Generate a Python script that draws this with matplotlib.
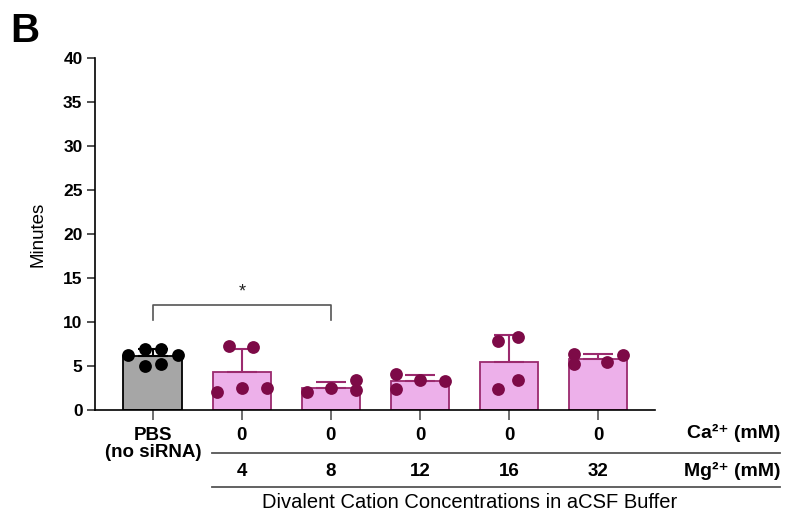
import matplotlib
matplotlib.use("Agg")
import matplotlib.pyplot as plt
from matplotlib.lines import Line2D
import numpy as np

plt.rcParams["font.family"] = ["Liberation Sans", "DejaVu Sans"]

# data
ca_labels = ["PBS\n(no siRNA)", "0", "0", "0", "0", "0"]
mg_labels = ["", "4", "8", "12", "16", "32"]
points = [
    [6.25, 6.97, 6.97, 6.25, 4.97, 5.19],
    [2.08, 7.24, 2.47, 7.20, 2.47],
    [2.00, 2.53, 3.40, 2.27],
    [4.09, 2.39, 3.37, 3.30],
    [2.35, 7.88, 3.41, 8.26],
    [6.36, 5.19, 5.42, 6.20],
]
# horizontal scatter of the dots inside each bar (layout only)
offsets = [
    [-0.28, -0.09, 0.09, 0.28, -0.09, 0.09],
    [-0.28, -0.14, 0.0, 0.13, 0.28],
    [-0.27, 0.0, 0.28, 0.28],
    [-0.27, -0.27, 0.0, 0.28],
    [-0.12, -0.12, 0.10, 0.10],
    [-0.27, -0.27, 0.10, 0.28],
]

means = [np.mean(p) for p in points]
sds = [np.std(p, ddof=1) for p in points]

PINK = "#EDB0EA"
PINK_EDGE = "#9B2A6E"
DOT = "#7D0A47"
GREY = "#A6A6A6"
LINE = "#555555"

fig = plt.figure(figsize=(7.86, 5.16), dpi=100)
ax = fig.add_axes([95 / 786, 1 - 410 / 516, 560 / 786, 352 / 516])

x = np.arange(len(points))
face = [GREY] + [PINK] * 5
edge = ["#000000"] + [PINK_EDGE] * 5
dotc = ["#000000"] + [DOT] * 5

for i in x:
    ax.bar(i, means[i], width=0.66, color=face[i], edgecolor=edge[i],
           linewidth=1.3, zorder=2)
    ax.errorbar(i, means[i], yerr=[[0], [sds[i]]], fmt="none",
                ecolor=edge[i], elinewidth=1.5, capsize=11, capthick=1.5,
                zorder=3)
    ax.scatter(i + np.array(offsets[i]), points[i], s=85, color=dotc[i],
               zorder=4, linewidths=0)

# significance bracket PBS vs 0/8
ax.plot([0, 0, 2, 2], [10.2, 11.9, 11.9, 10.2], color=LINE, lw=1.2,
        zorder=3)
ax.text(1, 12.4, "*", ha="center", va="bottom", fontsize=13, color="#222222")

ax.set_xlim(-0.65, 5.64)
ax.set_ylim(0, 40)
ax.set_yticks(range(0, 41, 5))
ax.tick_params(axis="y", length=6, width=1.2, labelsize=12.5, color="#333333",
               pad=3)
for t in ax.get_yticklabels():
    t.set_fontweight("bold")
ax.set_ylabel("Minutes", fontsize=13.5, labelpad=12)

ax.set_xticks(x)
ax.set_xticklabels(ca_labels, fontsize=13.5, fontweight="bold",
                   linespacing=1.05)
ax.tick_params(axis="x", length=7, width=1.2, color=LINE, pad=5)

for s in ["top", "right"]:
    ax.spines[s].set_visible(False)
ax.spines["left"].set_linewidth(1.2)
ax.spines["bottom"].set_linewidth(1.2)

# second row of labels (Mg)
for i, lab in enumerate(mg_labels):
    ax.text(i, -(471 - 410) / 352, lab, transform=ax.get_xaxis_transform(),
            ha="center", va="center", fontsize=13.5, fontweight="bold")

fig.text(780 / 786, 1 - 433 / 516, "Ca²⁺ (mM)", ha="right", va="center",
         fontsize=14, fontweight="bold")
fig.text(780 / 786, 1 - 471 / 516, "Mg²⁺ (mM)", ha="right", va="center",
         fontsize=14, fontweight="bold")

for yy in [453, 487]:
    fig.add_artist(Line2D([212 / 786, 780 / 786], [1 - yy / 516] * 2,
                          color=LINE, lw=1.3))

fig.text(470 / 786, 1 - 503 / 516,
         "Divalent Cation Concentrations in aCSF Buffer", ha="center",
         va="center", fontsize=14.5)

fig.text(10 / 786, 1 - 31 / 516, "B", fontsize=29, fontweight="bold",
         va="center", ha="left")

fig.savefig("out.png", dpi=100)
